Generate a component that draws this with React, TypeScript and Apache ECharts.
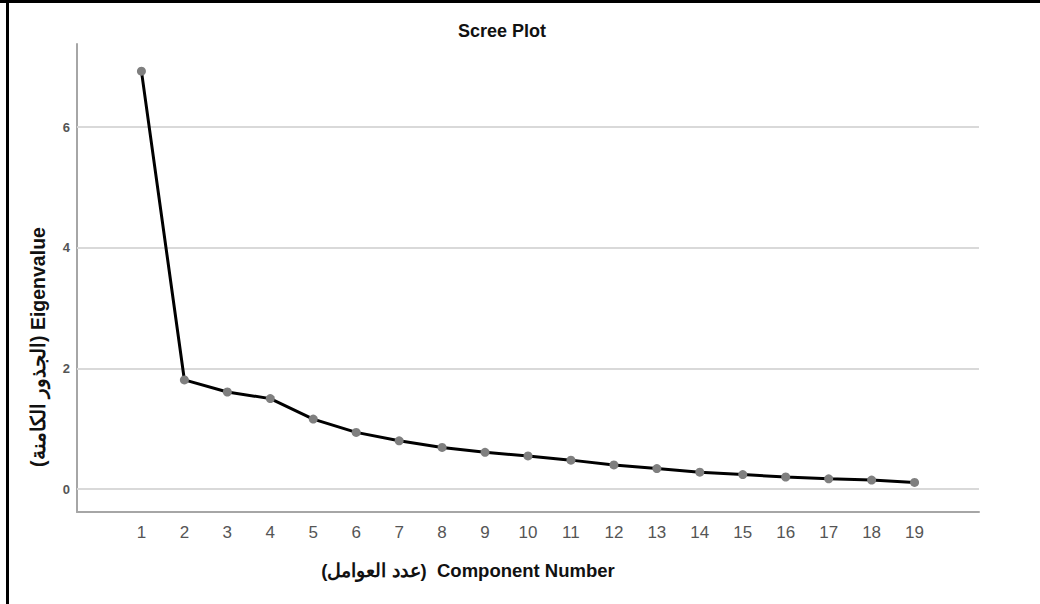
import React, { useEffect, useRef } from "react";
import * as echarts from "echarts";

const components = [1, 2, 3, 4, 5, 6, 7, 8, 9, 10, 11, 12, 13, 14, 15, 16, 17, 18, 19];
const eigenvalues = [6.93, 1.81, 1.61, 1.5, 1.16, 0.94, 0.8, 0.69, 0.61, 0.55, 0.48, 0.4, 0.34, 0.28, 0.24, 0.2, 0.17, 0.15, 0.11];
const yTicks = [0, 2, 4, 6];
const titleText = "Scree Plot";
const xName = "(عدد العوامل)  Component Number";
const yName = "(الجذور الكامنة) Eigenvalue";

const FONT = '"Liberation Sans", Arial, sans-serif';

export default function App() {
  const ref = useRef<HTMLDivElement>(null);
  useEffect(() => {
    if (!ref.current) return;
    const chart = echarts.init(ref.current, null, { renderer: "svg" });
    chart.setOption({
      animation: false,
      backgroundColor: "#ffffff",
      title: {
        text: titleText,
        left: 453,
        top: 17,
        textStyle: { fontFamily: FONT, fontSize: 18, fontWeight: "bold", color: "#111" },
      },
      grid: { left: 77, right: 61, top: 44, bottom: 92, containLabel: false },
      xAxis: {
        type: "value",
        min: -0.5,
        max: 20.5,
        axisLine: { onZero: false, lineStyle: { color: "#a6a6a6", width: 2 } },
        axisTick: { show: false },
        splitLine: { show: false },
        axisLabel: {
          customValues: components,
          margin: 12,
          fontFamily: FONT,
          fontSize: 17,
          color: "#555",
        },
      },
      yAxis: {
        type: "value",
        min: -0.38,
        max: 7.38,
        axisLine: { show: true, onZero: false, lineStyle: { color: "#a6a6a6", width: 2 } },
        axisTick: { show: false },
        splitLine: { show: false },
        axisLabel: {
          customValues: yTicks,
          margin: 7,
          fontFamily: FONT,
          fontSize: 13,
          fontWeight: "bold",
          color: "#555",
        },
      },
      graphic: [
        { type: "rect", shape: { x: 0, y: 0, width: 1040, height: 3 }, style: { fill: "#000" } },
        { type: "rect", shape: { x: 6, y: 0, width: 3, height: 604 }, style: { fill: "#000" } },
        {
          type: "text",
          x: 38,
          y: 347,
          rotation: Math.PI / 2,
          style: {
            text: yName,
            fontFamily: FONT,
            fontSize: 19.5,
            fontWeight: "bold",
            fill: "#111",
            align: "center",
            verticalAlign: "middle",
          },
        },
        {
          type: "text",
          x: 468,
          y: 570,
          style: {
            text: xName,
            fontFamily: FONT,
            fontSize: 18.5,
            fontWeight: "bold",
            fill: "#111",
            align: "center",
            verticalAlign: "middle",
          },
        },
      ],
      series: [
        {
          type: "line",
          data: components.map((c, i) => [c, eigenvalues[i]]),
          symbol: "circle",
          symbolSize: 9,
          lineStyle: { color: "#000", width: 3 },
          itemStyle: { color: "#7f7f7f" },
          z: 3,
          markLine: {
            silent: true,
            symbol: ["none", "none"],
            label: { show: false },
            lineStyle: { color: "#d9d9d9", width: 2, type: "solid" },
            data: yTicks.map((v) => ({ yAxis: v })),
            z: 1,
          },
        },
      ],
    });
    return () => chart.dispose();
  }, []);
  return (
    <div
      ref={ref}
      style={{ position: "fixed", left: 0, top: 0, width: 1040, height: 604 }}
    />
  );
}
